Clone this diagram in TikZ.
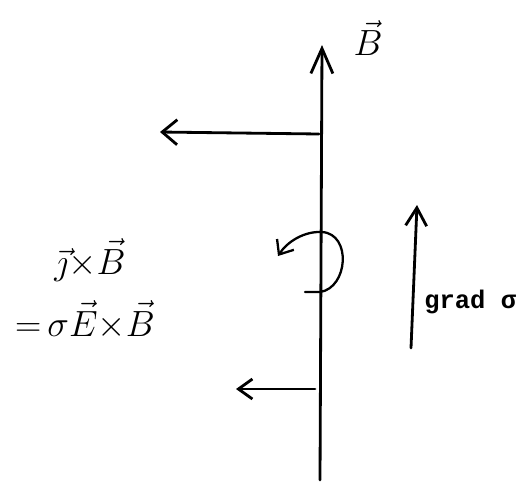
\documentclass[tikz,border=0pt]{standalone}
\usepackage{fontspec}
\newfontfamily\gradfont{Liberation Mono}
\usetikzlibrary{arrows.meta}

\begin{document}
\begin{tikzpicture}[x=0.02cm,y=-0.02cm,line cap=round,
 fline/.style={line width=1.6pt},
 hand/.style={font=\huge,inner sep=0pt}]
\useasboundingbox (0,0) rectangle (524,481);
% field line and its end points
\coordinate (bot) at (320,480);
\coordinate (top) at (322,45);
\draw[fline,-{Straight Barb[length=5mm,width=4.4mm,line width=1.6pt]}] (bot) -- (top);
\node[hand] (blbl) at (368,38) {$\vec{B}$};
% forces on the line
\coordinate (fup) at (319,134);
\coordinate (fuptip) at (160,132);
\coordinate (flo) at (315,389);
\coordinate (flotip) at (236,389);
\draw[fline,-{Straight Barb[length=3mm,width=5mm,line width=1.6pt]}] (fup) -- (fuptip);
\draw[fline,-{Straight Barb[length=2.8mm,width=4mm,line width=1.6pt]}] (flo) -- (flotip);
% rotation round the line
\coordinate (cs) at (305,292);
\coordinate (ce) at (278,256);
\draw[line width=1.3pt,-{Straight Barb[length=2.4mm,width=4mm,line width=1.3pt]}] (cs) -- (320,292)
  .. controls (348,288) and (352,234) .. (322,232)
  .. controls (304,231) and (287,242) .. (ce);
% gradient of sigma
\coordinate (gs) at (411,348);
\coordinate (ge) at (417,205);
\draw[fline,-{Straight Barb[length=3.6mm,width=4.2mm,line width=1.6pt]}] (gs) -- (ge);
\node[font=\gradfont\bfseries\fontsize{14.5}{17}\selectfont,anchor=west,inner sep=0pt] (glbl) at (424,302) {grad σ};
% force density
\node[hand] (jxb) at (90,260) {$\vec{\jmath}{\times}\vec{B}$};
\node[hand] (sexb) at (85,320) {${=}\,\sigma\vec{E}{\times}\vec{B}$};
\end{tikzpicture}
\end{document}
